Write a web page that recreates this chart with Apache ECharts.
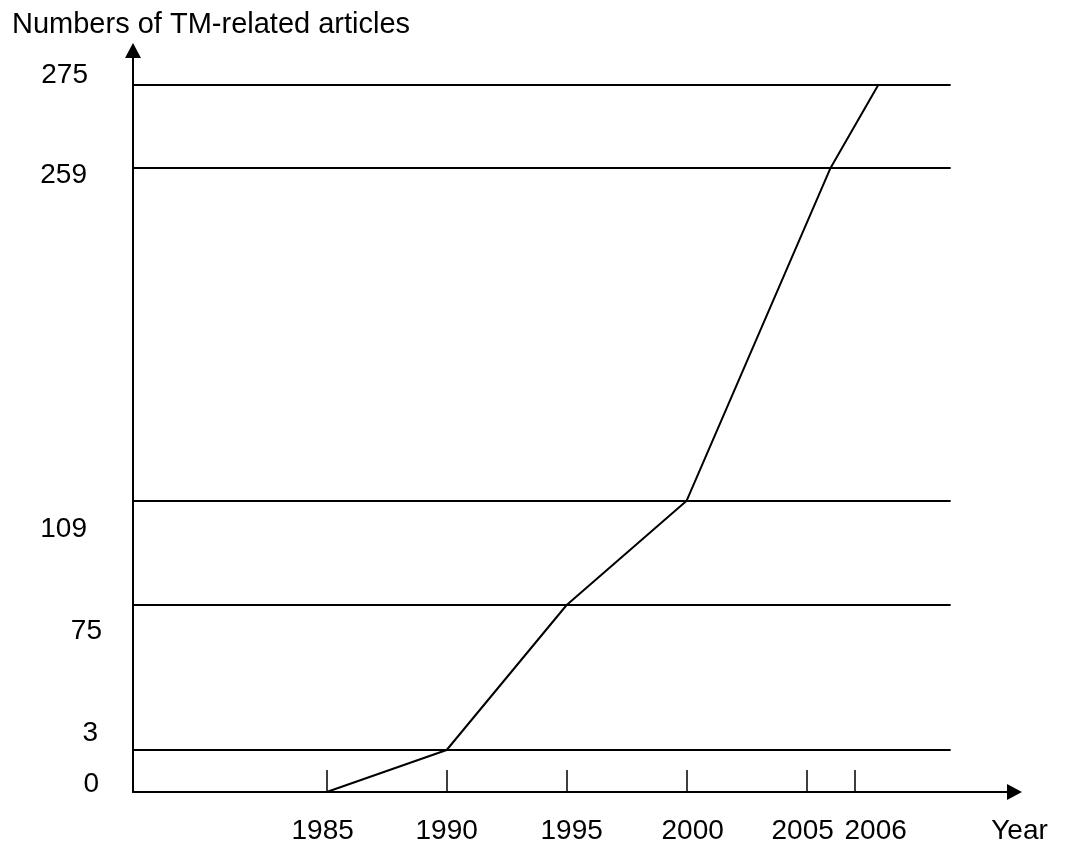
<!DOCTYPE html>
<html>
<head>
<meta charset="utf-8">
<script src="https://cdn.jsdelivr.net/npm/echarts@6/dist/echarts.min.js"></script>
<style>html,body{margin:0;padding:0;background:#fff}#c{width:1072px;height:850px}</style>
</head>
<body>
<div id="c"></div>
<script>
// ---- data ----
const yearLabels = ['1985', '1990', '1995', '2000', '2005', '2006'];
const articleCounts = [0, 3, 75, 109, 259, 275];
// schematic (non-linear) scale used by the original drawing
const yearTickSlots = [0, 5, 10, 15, 20, 22];          // slot of each year tick on the x axis
const pointSlots = [0, 5, 10, 15, 21, 23];             // slot of each plotted point on the x axis
const countLevels = [0, 42, 187, 291.3, 624.3, 707.7]; // level of each count on the y axis
const titleText = 'Numbers of TM-related articles';
const xName = 'Year';

// ---- styles ----
const FONT = 'Liberation Sans, Arial, sans-serif';
const FS = 28;
const X_MIN = -8.07, X_MAX = 28.66, H_LINE_END = 26.0;
const Y_MAX = 741.5;
const xShift = [-4, 0, 5, 6, -4, 21];          // horizontal label offsets (px) per year label
const yShift = [-8, -17, 26, 29, 8, -9];       // vertical label offsets (px) per count label
const yRightPad = [3, 4, 0, 15, 15, 14];       // right padding (px) per count label

const xRich = {}, yRich = {};
yearLabels.forEach((t, i) => {
  const s = xShift[i];
  xRich['x' + i] = {fontSize: FS, fontFamily: FONT, color: '#000',
    padding: s >= 0 ? [0, 0, 0, 2 * s] : [0, -2 * s, 0, 0]};
});
articleCounts.forEach((c, i) => {
  const s = yShift[i];
  yRich['y' + i] = {fontSize: FS, fontFamily: FONT, color: '#000',
    padding: s >= 0 ? [2 * s, yRightPad[i], 0, 0] : [0, yRightPad[i], -2 * s, 0]};
});

const option = {
  animation: false,
  backgroundColor: '#fff',
  title: {
    text: titleText, left: 7, top: 5,
    textStyle: {fontSize: 29, fontWeight: 'normal', fontFamily: FONT, color: '#000'}
  },
  grid: {left: 133, top: 50.5, right: 57.5, bottom: 58, containLabel: false},
  xAxis: {
    type: 'value', min: X_MIN, max: X_MAX,
    name: xName, nameLocation: 'end', nameGap: 5,
    nameTextStyle: {fontSize: FS, fontFamily: FONT, color: '#000', align: 'center', verticalAlign: 'top', padding: [25, 0, 0, 0]},
    axisLine: {show: true, onZero: false, symbol: ['none', 'triangle'], symbolSize: [16, 15], lineStyle: {color: '#000', width: 2}},
    axisTick: {show: true, inside: true, length: 22, customValues: yearTickSlots, lineStyle: {color: '#000', width: 1.5}},
    axisLabel: {
      show: true, margin: 25, customValues: yearTickSlots,
      formatter: v => { const i = yearTickSlots.findIndex(s => Math.abs(s - v) < 1e-6); return i < 0 ? '' : '{x' + i + '|' + yearLabels[i] + '}'; },
      rich: xRich, verticalAlign: 'top'
    },
    splitLine: {show: false}
  },
  yAxis: {
    type: 'value', min: 0, max: Y_MAX,
    axisLine: {show: true, onZero: false, symbol: ['none', 'triangle'], symbolSize: [16, 15], lineStyle: {color: '#000', width: 2}},
    axisTick: {show: false},
    axisLabel: {
      show: true, margin: 31, customValues: countLevels, align: 'right', verticalAlign: 'middle',
      formatter: v => { const i = countLevels.findIndex(s => Math.abs(s - v) < 1e-6); return i < 0 ? '' : '{y' + i + '|' + articleCounts[i] + '}'; },
      rich: yRich
    },
    splitLine: {show: false}
  },
  series: [{
    type: 'line',
    data: pointSlots.map((x, i) => [x, countLevels[i]]),
    showSymbol: false, symbol: 'none',
    lineStyle: {color: '#000', width: 2},
    silent: true,
    markLine: {
      silent: true, symbol: ['none', 'none'], animation: false,
      label: {show: false},
      lineStyle: {color: '#000', width: 2, type: 'solid'},
      emphasis: {disabled: true},
      data: countLevels.slice(1).map(l => [{coord: [X_MIN, l]}, {coord: [H_LINE_END, l]}])
    }
  }]
};
const chart = echarts.init(document.getElementById('c'), null, {renderer: 'canvas'});
chart.setOption(option);
</script>
</body>
</html>
